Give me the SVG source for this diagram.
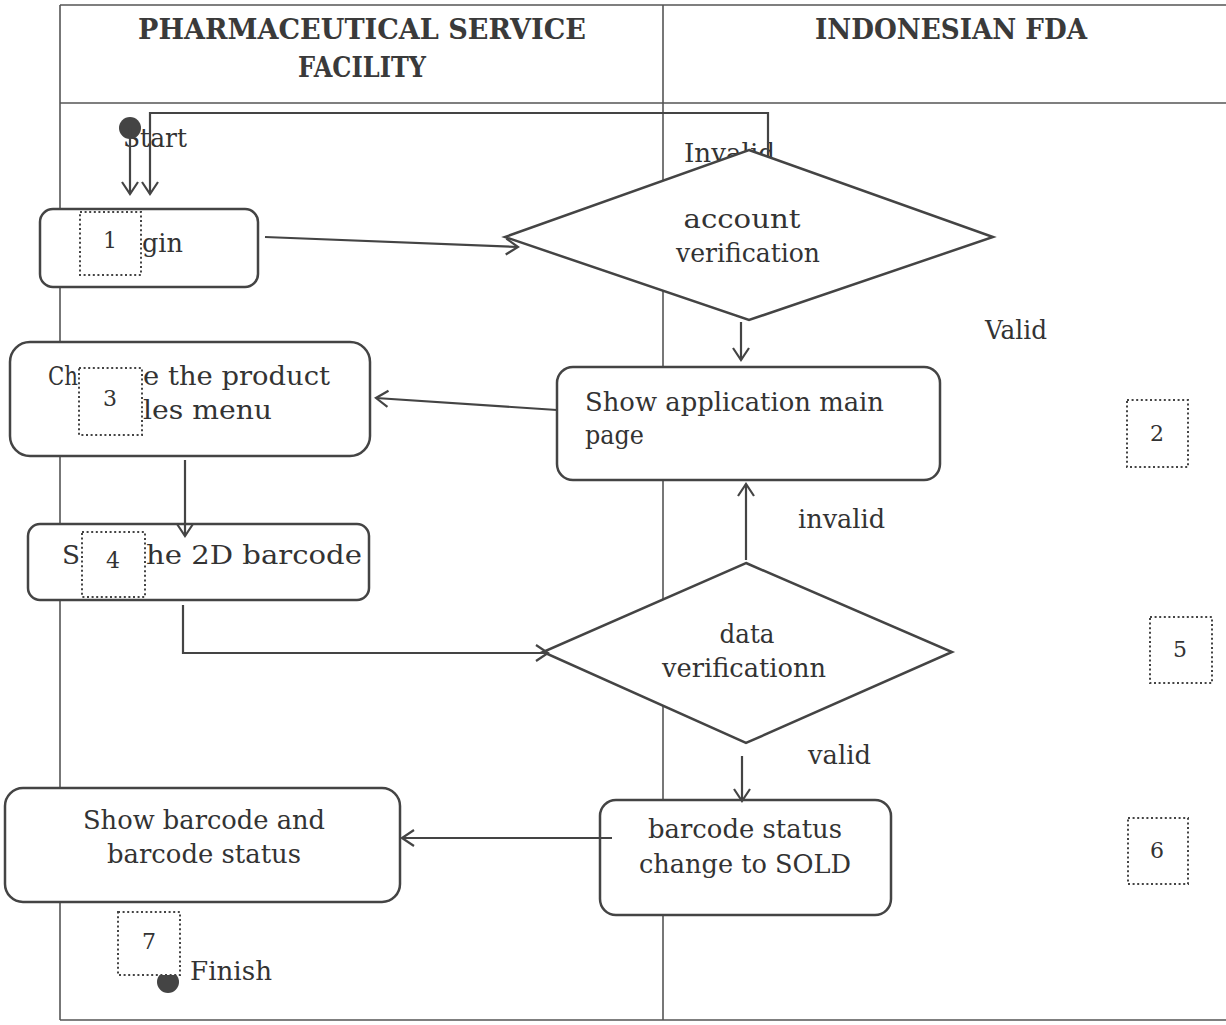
<svg xmlns="http://www.w3.org/2000/svg" width="1226" height="1025" viewBox="0 0 1226 1025">
<defs>
<style>
.frame{stroke:#555;stroke-width:1.6;fill:none}
.box{fill:#fff;stroke:#444;stroke-width:2.5}
.dot{fill:#fff;stroke:#444;stroke-width:2;stroke-dasharray:2 2.6}
.conn{stroke:#444;stroke-width:2.2;fill:none}
.t{font-family:"DejaVu Serif","Liberation Serif",serif;font-size:26px;fill:#333}
.h{font-family:"DejaVu Serif","Liberation Serif",serif;font-size:27px;font-weight:bold;fill:#3a3a3a}
.n{font-family:"DejaVu Serif","Liberation Serif",serif;font-size:22px;fill:#333;text-anchor:middle}
.c{text-anchor:middle}
</style>
<marker id="arr" markerUnits="userSpaceOnUse" markerWidth="20" markerHeight="20" viewBox="0 0 20 20" refX="14" refY="10" orient="auto">
<path d="M2,2 L14,10 L2,18" fill="none" stroke="#444" stroke-width="2.2"/>
</marker>
</defs>
<rect width="1226" height="1025" fill="#fff"/>
<g id="lanes">
<line class="frame" x1="60" y1="5" x2="1226" y2="5"/>
<line class="frame" x1="60" y1="103" x2="1226" y2="103"/>
<line class="frame" x1="60" y1="5" x2="60" y2="1020"/>
<line class="frame" x1="663" y1="5" x2="663" y2="1020"/>
<line class="frame" x1="60" y1="1020" x2="1226" y2="1020"/>
<text class="h c" x="362" y="39" textLength="448" lengthAdjust="spacingAndGlyphs">PHARMACEUTICAL SERVICE</text>
<text class="h c" x="362" y="77" textLength="128" lengthAdjust="spacingAndGlyphs">FACILITY</text>
<text class="h c" x="951" y="39" textLength="272" lengthAdjust="spacingAndGlyphs">INDONESIAN FDA</text>
</g>
<g id="labels">
<text class="t" x="123" y="147" textLength="64" lengthAdjust="spacingAndGlyphs">Start</text>
<text class="t" x="684" y="162" textLength="91" lengthAdjust="spacingAndGlyphs">Invalid</text>
<text class="t" x="985" y="339" textLength="62" lengthAdjust="spacingAndGlyphs">Valid</text>
<text class="t" x="798" y="528" textLength="87" lengthAdjust="spacingAndGlyphs">invalid</text>
<text class="t" x="808" y="764" textLength="63" lengthAdjust="spacingAndGlyphs">valid</text>
<text class="t" x="190" y="980" textLength="82" lengthAdjust="spacingAndGlyphs">Finish</text>
</g>
<g id="start">
<circle cx="130" cy="128" r="11" fill="#444"/>
</g>
<g id="account-verification">
<polygon class="box" points="749,150 993,237 749,320 505,237"/>
<text class="t c" x="742" y="228" textLength="117" lengthAdjust="spacingAndGlyphs">account</text>
<text class="t c" x="748" y="262" textLength="144" lengthAdjust="spacingAndGlyphs">verification</text>
</g>
<g id="login">
<rect class="box" x="40" y="209" width="218" height="78" rx="13"/>
<rect class="dot" x="80" y="212" width="61" height="63"/>
<text class="n" x="110" y="248">1</text>
<text class="t" x="142" y="252" textLength="41" lengthAdjust="spacingAndGlyphs">gin</text>
</g>
<g id="show-main-page">
<rect class="box" x="557" y="367" width="383" height="113" rx="16"/>
<text class="t" x="585" y="411" textLength="299" lengthAdjust="spacingAndGlyphs">Show application main</text>
<text class="t" x="585" y="444" textLength="59" lengthAdjust="spacingAndGlyphs">page</text>
</g>
<g id="choose-menu">
<rect class="box" x="10" y="342" width="360" height="114" rx="20"/>
<text class="t" x="48" y="385" textLength="30" lengthAdjust="spacingAndGlyphs">Ch</text>
<text class="t" x="143" y="385" textLength="187" lengthAdjust="spacingAndGlyphs">e the product</text>
<text class="t" x="143" y="419" textLength="129" lengthAdjust="spacingAndGlyphs">les menu</text>
<rect class="dot" x="79" y="368" width="63" height="67"/>
<text class="n" x="110" y="406">3</text>
</g>
<g id="scan-barcode">
<rect class="box" x="28" y="524" width="341" height="76" rx="12"/>
<text class="t" x="62" y="564" textLength="18" lengthAdjust="spacingAndGlyphs">S</text>
<text class="t" x="146" y="564" textLength="216" lengthAdjust="spacingAndGlyphs">he 2D barcode</text>
<rect class="dot" x="82" y="532" width="63" height="65"/>
<text class="n" x="113" y="568">4</text>
</g>
<g id="data-verification">
<polygon class="box" points="746,563 952,652 746,743 543,652"/>
<text class="t c" x="747" y="643" textLength="55" lengthAdjust="spacingAndGlyphs">data</text>
<text class="t c" x="744" y="677" textLength="164" lengthAdjust="spacingAndGlyphs">verificationn</text>
</g>
<g id="barcode-status">
<rect class="box" x="600" y="800" width="291" height="115" rx="16"/>
<text class="t c" x="745" y="838" textLength="194" lengthAdjust="spacingAndGlyphs">barcode status</text>
<text class="t c" x="745" y="873" textLength="212" lengthAdjust="spacingAndGlyphs">change to SOLD</text>
</g>
<g id="show-barcode">
<rect class="box" x="5" y="788" width="395" height="114" rx="18"/>
<text class="t c" x="204" y="829" textLength="242" lengthAdjust="spacingAndGlyphs">Show barcode and</text>
<text class="t c" x="204" y="863" textLength="194" lengthAdjust="spacingAndGlyphs">barcode status</text>
</g>
<g id="finish">
<circle cx="168" cy="982" r="11" fill="#444"/>
<rect class="dot" x="118" y="912" width="62" height="63"/>
<text class="n" x="149" y="949">7</text>
</g>
<g id="markers">
<rect class="dot" x="1127" y="400" width="61" height="67"/>
<text class="n" x="1157" y="441">2</text>
<rect class="dot" x="1150" y="617" width="62" height="66"/>
<text class="n" x="1180" y="657">5</text>
<rect class="dot" x="1128" y="818" width="60" height="66"/>
<text class="n" x="1157" y="858">6</text>
</g>
<g id="connectors">
<line class="conn" x1="130" y1="128" x2="130" y2="194" marker-end="url(#arr)"/>
<polyline class="conn" points="768,157 768,113 150,113 150,194" marker-end="url(#arr)"/>
<line class="conn" x1="265" y1="237" x2="518" y2="247" marker-end="url(#arr)"/>
<line class="conn" x1="741" y1="322" x2="741" y2="360" marker-end="url(#arr)"/>
<line class="conn" x1="557" y1="410" x2="376" y2="398" marker-end="url(#arr)"/>
<line class="conn" x1="185" y1="460" x2="185" y2="536" marker-end="url(#arr)"/>
<polyline class="conn" points="183,605 183,653 548,653" marker-end="url(#arr)"/>
<line class="conn" x1="746" y1="560" x2="746" y2="484" marker-end="url(#arr)"/>
<line class="conn" x1="742" y1="756" x2="742" y2="801" marker-end="url(#arr)"/>
<line class="conn" x1="612" y1="838" x2="402" y2="838" marker-end="url(#arr)"/>
</g>
</svg>
